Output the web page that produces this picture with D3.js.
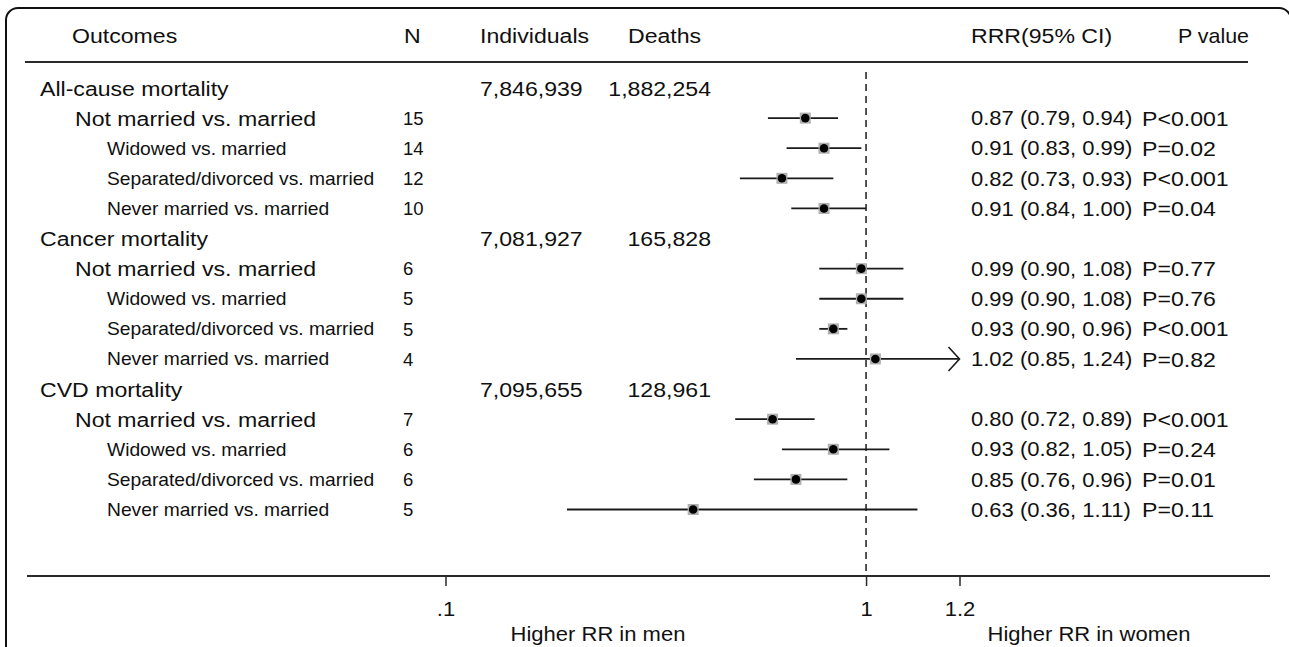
<!DOCTYPE html>
<html>
<head>
<meta charset="utf-8">
<script src="https://cdn.jsdelivr.net/npm/d3@7"></script>
<style>
  body { margin: 0; background: #fff; }
  svg text { font-family: "Liberation Sans", Arial, sans-serif; fill: #101010; }
</style>
</head>
<body>
<div id="chart"></div>
<script>
var width = 1289,
    height = 647;

// data
var outcomes = ["All-cause mortality", "Cancer mortality", "CVD mortality"];
var individuals = ["7,846,939", "7,081,927", "7,095,655"];
var deaths = ["1,882,254", "165,828", "128,961"];
var comparisons = ["Not married vs. married", "Widowed vs. married",
                   "Separated/divorced vs. married", "Never married vs. married"];
var nStudies = [[15, 14, 12, 10], [6, 5, 5, 4], [7, 6, 6, 5]];
var rrr   = [[0.87, 0.91, 0.82, 0.91], [0.99, 0.99, 0.93, 1.02], [0.80, 0.93, 0.85, 0.63]];
var lower = [[0.79, 0.83, 0.73, 0.84], [0.90, 0.90, 0.90, 0.85], [0.72, 0.82, 0.76, 0.36]];
var upper = [[0.94, 0.99, 0.93, 1.00], [1.08, 1.08, 0.96, 1.24], [0.89, 1.05, 0.96, 1.11]];
var pValues = [["P<0.001", "P=0.02", "P<0.001", "P=0.04"],
               ["P=0.77", "P=0.76", "P<0.001", "P=0.82"],
               ["P<0.001", "P=0.24", "P=0.01", "P=0.11"]];
var xTicks = [0.1, 1, 1.2];
var xTickLabels = [".1", "1", "1.2"];

// flatten into rows: one header row per outcome, then its comparisons
var rows = [];
outcomes.forEach(function (o, gi) {
    rows.push({type: "group", label: o, ind: individuals[gi], deaths: deaths[gi]});
    comparisons.forEach(function (c, ci) {
        rows.push({
            type: ci === 0 ? "main" : "sub",
            label: c,
            n: nStudies[gi][ci],
            est: rrr[gi][ci],
            lo: lower[gi][ci],
            hi: upper[gi][ci],
            p: pValues[gi][ci]
        });
    });
});

var x = d3.scaleLinear().domain([0.1, 1.2]).range([445.5, 959.5]),
    y = d3.scaleLinear().domain([0, rows.length - 1]).range([88, 509.5]);

var svg = d3.select("#chart").append("svg")
    .attr("width", width)
    .attr("height", height);

var sx = 1.1; // the original text is a bit wider than Arial

function label(g, tx, ty, text, size, anchor, scale) {
    return g.append("text")
        .attr("transform", "translate(" + tx + "," + ty + ")scale(" + (scale || sx) + ",1)")
        .attr("dy", "0.36em")
        .attr("text-anchor", anchor || "start")
        .style("font-size", size + "px")
        .text(text);
}

// frame
svg.append("rect")
    .attr("x", 6).attr("y", 8)
    .attr("width", 1285).attr("height", 700)
    .attr("rx", 12)
    .attr("fill", "none")
    .attr("stroke", "#111")
    .attr("stroke-width", 2);

// header
var head = svg.append("g");
label(head, 72, 35, "Outcomes", 21);
label(head, 404, 35, "N", 21);
label(head, 480, 35, "Individuals", 21);
label(head, 628, 35, "Deaths", 21);
label(head, 971, 35, "RRR(95% CI)", 21);
label(head, 1178, 35, "P value", 21, "start", 1.02);

svg.append("line")
    .attr("x1", 25).attr("x2", 1248)
    .attr("y1", 62).attr("y2", 62)
    .attr("stroke", "#2a2a2a")
    .attr("stroke-width", 2);

// reference line at 1
svg.append("line")
    .attr("x1", x(1)).attr("x2", x(1))
    .attr("y1", 72).attr("y2", 576)
    .attr("stroke", "#2a2a2a")
    .attr("stroke-width", 1.6)
    .attr("stroke-dasharray", "7,5");

// rows
var row = svg.selectAll(".row")
    .data(rows)
    .enter().append("g")
    .attr("class", "row");

row.each(function (d, i) {
    var g = d3.select(this), yy = y(i);
    if (d.type === "group") {
        label(g, 40, yy, d.label, 21);
        label(g, 480, yy, d.ind, 21);
        label(g, 711, yy, d.deaths, 21, "end");
        return;
    }
    label(g, d.type === "main" ? 75 : 107, yy, d.label, d.type === "main" ? 21 : 17.5);
    label(g, 403, yy, d.n, 18.5, "start", 1);
    label(g, 971, yy, d.est.toFixed(2) + " (" + d.lo.toFixed(2) + ", " + d.hi.toFixed(2) + ")", 20);
    label(g, 1142, yy, d.p, 21);

    var hi = Math.min(d.hi, x.domain()[1]);
    g.append("line")
        .attr("x1", x(d.lo)).attr("x2", x(hi))
        .attr("y1", yy).attr("y2", yy)
        .attr("stroke", "#1a1a1a")
        .attr("stroke-width", 1.8);
    if (d.hi > x.domain()[1]) {
        g.append("path")
            .attr("d", "M" + (x(hi) - 11) + "," + (yy - 12) + "L" + x(hi) + "," + yy + "L" + (x(hi) - 11) + "," + (yy + 12))
            .attr("fill", "none")
            .attr("stroke", "#1a1a1a")
            .attr("stroke-width", 1.6);
    }
    g.append("rect")
        .attr("x", x(d.est) - 5.5).attr("y", yy - 5.5)
        .attr("width", 11).attr("height", 11)
        .attr("fill", "#b0b0b0");
    g.append("circle")
        .attr("cx", x(d.est)).attr("cy", yy)
        .attr("r", 4.3)
        .attr("fill", "#000");
});

// x axis
svg.append("line")
    .attr("x1", 27).attr("x2", 1270)
    .attr("y1", 576).attr("y2", 576)
    .attr("stroke", "#2a2a2a")
    .attr("stroke-width", 2);

var axis = svg.append("g")
    .attr("transform", "translate(0,576)")
    .call(d3.axisBottom(x)
        .tickValues(xTicks)
        .tickSize(10)
        .tickPadding(16)
        .tickFormat(function (d, i) { return xTickLabels[i]; }));

axis.select(".domain").remove();
axis.selectAll(".tick line").attr("stroke", "#2a2a2a").attr("stroke-width", 1.5);
axis.selectAll(".tick text")
    .style("font-size", "20px")
    .style("font-family", "Liberation Sans, Arial, sans-serif")
    .attr("fill", "#101010")
    .attr("transform", "scale(" + sx + ",1)");

var foot = svg.append("g");
label(foot, 598, 634, "Higher RR in men", 20, "middle");
label(foot, 1089, 634, "Higher RR in women", 20, "middle");
</script>
</body>
</html>
